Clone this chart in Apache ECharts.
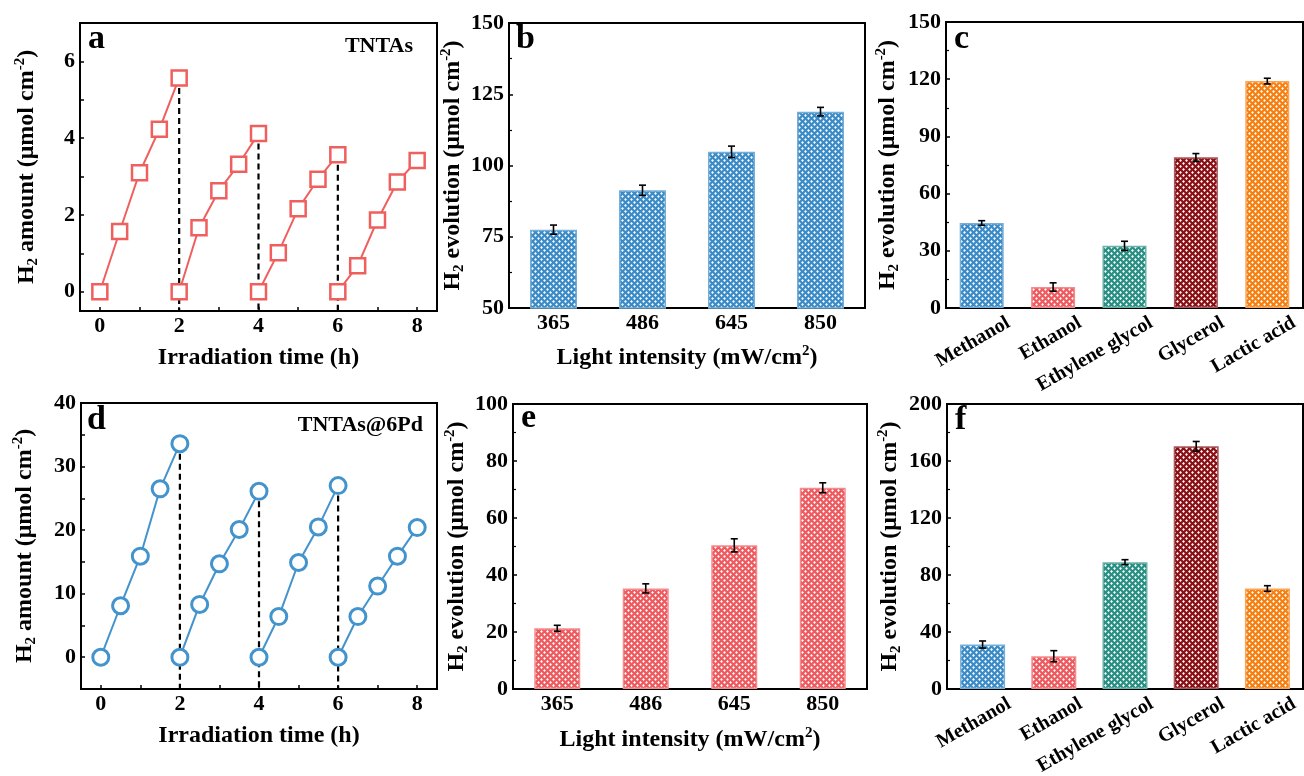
<!DOCTYPE html>
<html><head><meta charset="utf-8">
<script src="https://cdn.jsdelivr.net/npm/echarts@6/dist/echarts.min.js"></script>
<style>html,body{margin:0;padding:0;background:#fff}#c{width:1304px;height:776px}</style>
</head><body><div id="c"></div>
<script>
// ---------------- data ----------------
const cycleTimes = [[0,0.5,1,1.5,2],[2,2.5,3,3.5,4],[4,4.5,5,5.5,6],[6,6.5,7,7.5,8]];
const tntasCycles = [[0,1.57,3.1,4.23,5.57],[0,1.67,2.63,3.32,4.12],[0,1.02,2.16,2.93,3.57],[0,0.68,1.87,2.86,3.42]];
const pdCycles = [[0,8.1,15.9,26.5,33.6],[0,8.3,14.7,20.1,26.1],[0,6.4,14.9,20.5,27.0],[0,6.4,11.2,15.9,20.4]];
const intensities = ['365','486','645','850'];
const tntasIntensity = [77.5,91.3,104.8,118.9];
const tntasIntensityErr = [1.6,1.8,2.0,1.5];
const pdIntensity = [21.3,35.3,50.4,70.6];
const pdIntensityErr = [1.05,1.6,2.3,1.75];
const scavengers = ['Methanol','Ethanol','Ethylene glycol','Glycerol','Lactic acid'];
const tntasScav = [44.6,11.0,32.6,79.0,119.0];
const tntasScavErr = [1.2,2.2,2.4,2.0,1.5];
const pdScav = [31.2,23.0,89.0,170.3,70.5];
const pdScavErr = [2.5,3.9,1.75,3.4,2.0];
const timeTicks = [0,1,2,3,4,5,6,7,8];
const timeLabels = [0,2,4,6,8];
const tntasYTicks = [0,1,2,3,4,5,6];
const tntasYLabels = [0,2,4,6];
const pdYTicks = [0,5,10,15,20,25,30,35,40];
const pdYLabels = [0,10,20,30,40];

// ---------------- styles ----------------
const F = '"Liberation Serif","Times New Roman",serif';
const RED = '#EF5F5E', BLUE = '#4393CC';
const scavPalette = ['#3A8BC6','#EE5A5E','#2A8F83','#881016','#F67F10'];

function lighten(hex, k){
  const n = parseInt(hex.slice(1),16);
  let r=(n>>16)&255,g=(n>>8)&255,b=n&255;
  r=Math.round(r+(255-r)*k); g=Math.round(g+(255-g)*k); b=Math.round(b+(255-b)*k);
  return 'rgb('+r+','+g+','+b+')';
}
function hatch(color){
  const c=document.createElement('canvas'); c.width=6; c.height=6;
  const g=c.getContext('2d');
  g.fillStyle=color; g.fillRect(0,0,6,6);
  g.fillStyle='#fff';
  const dia=(x,y,r)=>{g.beginPath();g.moveTo(x,y-r);g.lineTo(x+r,y);g.lineTo(x,y+r);g.lineTo(x-r,y);g.closePath();g.fill();};
  dia(1.5,1.5,1.4); dia(4.5,4.5,1.4);
  return {image:c, repeat:'repeat'};
}
const labelStyle = {fontFamily:F, fontWeight:'bold', fontSize:22, color:'#000'};
const rich = {
  t:{fontFamily:F, fontWeight:'bold', fontSize:24, color:'#000', lineHeight:28},
  s:{fontFamily:F, fontWeight:'bold', fontSize:15, color:'#000', lineHeight:14, verticalAlign:'bottom'},
  p:{fontFamily:F, fontWeight:'bold', fontSize:15, color:'#000', lineHeight:14, verticalAlign:'top'}
};
const yName = '{t|H}{s|2}{t| amount (μmol cm}{p|-2}{t|)}';
const yNameEvo = '{t|H}{s|2}{t| evolution (μmol cm}{p|-2}{t|)}';
const xNameTime = '{t|Irradiation time (h)}';
const xNameLight = '{t|Light intensity (mW/cm}{p|2}{t|)}';

const grids = [
  {left:80, top:23, width:357, height:288},
  {left:509, top:23, width:356, height:285},
  {left:946, top:22, width:357, height:286},
  {left:81, top:403, width:356, height:286},
  {left:513, top:404, width:354, height:285},
  {left:947, top:404, width:356, height:285}
].map(g=>Object.assign({show:true, borderColor:'#000', borderWidth:2, backgroundColor:'transparent', outerBoundsMode:'none', containLabel:false}, g));

const axLine = {show:true, onZero:false, lineStyle:{color:'#000', width:2}};
const tick = {show:true, inside:true, length:4, lineStyle:{color:'#000', width:1.5}};

function timeAxis(gi, gap){
  return {gridIndex:gi, type:'value', min:-0.5, max:8.5, axisLine:axLine,
    axisTick:Object.assign({customValues:timeTicks}, tick),
    axisLabel:Object.assign({customValues:timeLabels, margin:4}, labelStyle),
    splitLine:{show:false}, name:xNameTime, nameLocation:'middle', nameGap:gap, nameTextStyle:{rich}};
}
function catAxis(gi, cats, rotated, gap){
  const a = {gridIndex:gi, type:'category', data:cats, axisLine:axLine, axisTick:{show:false},
    axisLabel:Object.assign({interval:0, margin:4}, labelStyle), splitLine:{show:false}};
  if(rotated){
    a.axisLabel.fontSize = 20; a.axisLabel.rotate = 30; a.axisLabel.margin = 29; a.axisLabel.padding = [0,-31,0,0];
  } else {
    a.name = xNameLight; a.nameLocation='middle'; a.nameGap=gap; a.nameTextStyle={rich};
  }
  return a;
}
function valAxis(gi, min, max, interval, name, gap){
  return {gridIndex:gi, type:'value', min, max, interval, axisLine:axLine, axisTick:tick,
    minorTick:{show:true, splitNumber:2, length:3, lineStyle:{color:'#000', width:1.2}},
    axisLabel:Object.assign({margin:5}, labelStyle), splitLine:{show:false},
    name, nameLocation:'middle', nameRotate:90, nameGap:gap, nameTextStyle:{rich}};
}
function customValAxis(gi, min, max, ticks, labels, name, gap){
  return {gridIndex:gi, type:'value', min, max, axisLine:axLine,
    axisTick:Object.assign({customValues:ticks}, tick),
    axisLabel:Object.assign({customValues:labels, margin:5}, labelStyle), splitLine:{show:false},
    name, nameLocation:'middle', nameRotate:90, nameGap:gap, nameTextStyle:{rich}};
}

const xAxis = [
  timeAxis(0, 33),
  catAxis(1, intensities, false, 36),
  catAxis(2, scavengers, true),
  timeAxis(3, 33),
  catAxis(4, intensities, false, 37),
  catAxis(5, scavengers, true)
];
const yAxis = [
  customValAxis(0, -0.5, 7, tntasYTicks, tntasYLabels, yName, 39),
  valAxis(1, 50, 150, 25, yNameEvo, 40),
  valAxis(2, 0, 150, 30, yNameEvo, 44),
  customValAxis(3, -5, 40, pdYTicks, pdYLabels, yName, 42),
  valAxis(4, 0, 100, 20, yNameEvo, 42),
  valAxis(5, 0, 200, 40, yNameEvo, 43)
];

const series = [];
function cycleSeries(ai, cycles, sym, color, size, bw, yMin){
  cycles.forEach((vals,k)=>{
    series.push({type:'line', xAxisIndex:ai, yAxisIndex:ai, z:3,
      data: cycleTimes[k].map((t,i)=>[t, vals[i]]),
      symbol:sym, symbolSize:size, showSymbol:true,
      itemStyle:{color:'#fff', borderColor:color, borderWidth:bw},
      lineStyle:{color, width:2}});
    if(k < cycles.length-1){
      const tEnd = cycleTimes[k][cycleTimes[k].length-1];
      const peak = vals[vals.length-1];
      series.push({type:'line', xAxisIndex:ai, yAxisIndex:ai, z:2, symbol:'none',
        data:[[tEnd, peak],[tEnd, yMin]],
        lineStyle:{color:'#000', width:2.2, type:[6,4]}});
    }
  });
}
cycleSeries(0, tntasCycles, 'rect', RED, 15, 2.5, -0.5);
cycleSeries(3, pdCycles, 'circle', BLUE, 16, 3, -5);

function barSeries(ai, vals, colors, width){
  series.push({type:'bar', xAxisIndex:ai, yAxisIndex:ai, barWidth:width, z:2,
    data: vals.map((v,i)=>{ const c = colors[i % colors.length];
      return {value:v, itemStyle:{color:hatch(c), borderColor:lighten(c,0.3), borderWidth:1.5}}; })});
}
function errSeries(ai, vals, errs){
  series.push({type:'custom', xAxisIndex:ai, yAxisIndex:ai, z:10,
    data: vals.map((v,i)=>[i, v, errs[i]]), encode:{x:0, y:1},
    renderItem:(params, api)=>{
      const x=api.value(0), v=api.value(1), e=api.value(2);
      const a=api.coord([x, v+e]), b=api.coord([x, v-e]); const w=3.5;
      const st={stroke:'#000', lineWidth:1.6};
      return {type:'group', children:[
        {type:'line', shape:{x1:a[0],y1:a[1],x2:b[0],y2:b[1]}, style:st},
        {type:'line', shape:{x1:a[0]-w,y1:a[1],x2:a[0]+w,y2:a[1]}, style:st},
        {type:'line', shape:{x1:b[0]-w,y1:b[1],x2:b[0]+w,y2:b[1]}, style:st}
      ]};
    }});
}
barSeries(1, tntasIntensity, [scavPalette[0]], 47); errSeries(1, tntasIntensity, tntasIntensityErr);
barSeries(2, tntasScav, scavPalette, 44); errSeries(2, tntasScav, tntasScavErr);
barSeries(4, pdIntensity, [scavPalette[1]], 46); errSeries(4, pdIntensity, pdIntensityErr);
barSeries(5, pdScav, scavPalette, 45); errSeries(5, pdScav, pdScavErr);

const letterFont = 'bold 34px ' + F;
const letters = [['a',88,22],['b',516,22],['c',954,22],['d',87,403],['e',521,401],['f',955,403]];
const graphic = letters.map(([t,x,y])=>({type:'text', left:x, top:y, z:20, style:{text:t, font:letterFont, fill:'#000'}}));
graphic.push({type:'text', z:20, style:{text:'TNTAs', x:413, y:46, textAlign:'right', textVerticalAlign:'middle', font:'bold 22px '+F, fill:'#000'}});
graphic.push({type:'text', z:20, style:{text:'TNTAs@6Pd', x:423, y:425, textAlign:'right', textVerticalAlign:'middle', font:'bold 22px '+F, fill:'#000'}});

const chart = echarts.init(document.getElementById('c'), null, {renderer:'canvas'});
chart.setOption({animation:false, backgroundColor:'#fff', grid:grids, xAxis, yAxis, series, graphic});
</script></body></html>
